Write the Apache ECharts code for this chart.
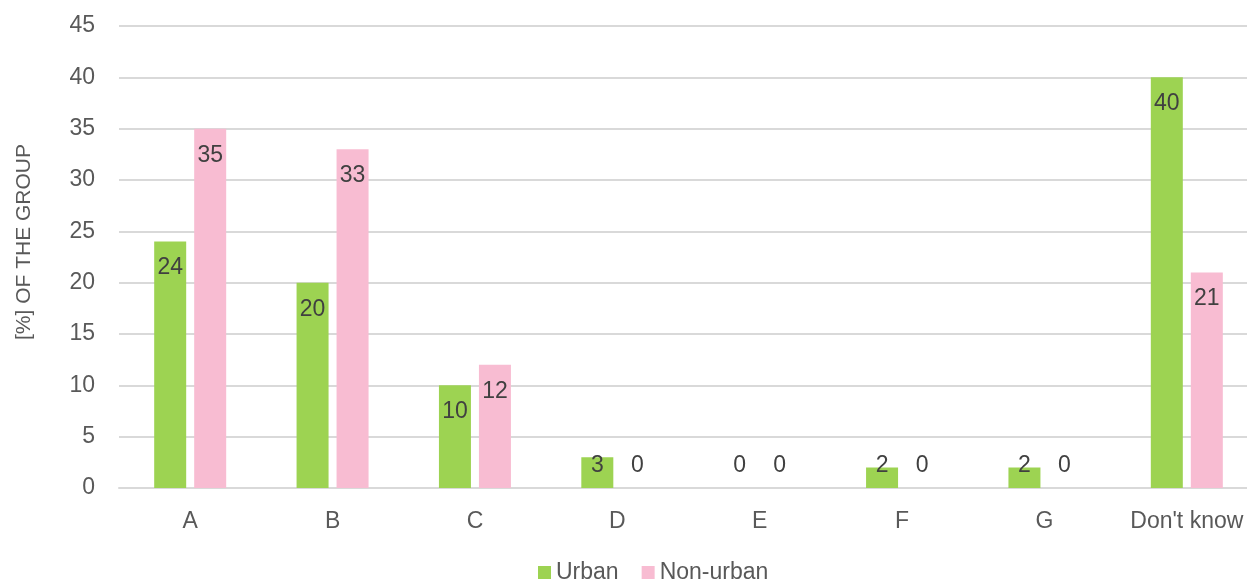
<!DOCTYPE html>
<html>
<head>
<meta charset="utf-8">
<script src="https://cdn.jsdelivr.net/npm/echarts@6/dist/echarts.min.js"></script>
<style>
  html, body { margin: 0; padding: 0; background: #ffffff; overflow: hidden; }
  #chart { width: 1262px; height: 583px; }
</style>
</head>
<body>
<div id="chart"></div>
<script>
// Answer categories along the x axis
const categories = ['A', 'B', 'C', 'D', 'E', 'F', 'G', "Don't know"];
// Share of each group choosing the answer, in percent
const urbanValues = [24, 20, 10, 3, 0, 2, 2, 40];
const nonUrbanValues = [35, 33, 12, 0, 0, 0, 0, 21];
// Value axis range and step
const yMin = 0;
const yMax = 45;
const yStep = 5;

const FONT = '"Liberation Sans", Arial, sans-serif';
const GREEN = '#9dd352';
const PINK = '#f8bcd2';

// Bars too short to hold their label keep it just above the baseline
function labelled(values) {
  return values.map(v => ({
    value: v,
    label: v >= 5
      ? { position: 'insideTop', distance: 15 }
      : { position: 'insideBottom', distance: 11 }
  }));
}

const chart = echarts.init(document.getElementById('chart'), null, { renderer: 'canvas' });

const labelStyle = {
  show: true,
  color: '#404040',
  fontFamily: FONT,
  fontSize: 23
};

chart.setOption({
  animation: false,
  textStyle: { fontFamily: FONT },
  // The plot runs slightly past the right edge of the visible page
  grid: { left: 119, top: 26, width: 1139, height: 462, containLabel: false },
  legend: {
    bottom: -6,
    left: 533,
    itemWidth: 13,
    itemHeight: 13,
    itemGap: 23,
    icon: 'rect',
    textStyle: { color: '#595959', fontFamily: FONT, fontSize: 23 },
    data: ['Urban', 'Non-urban']
  },
  xAxis: {
    type: 'category',
    data: categories,
    axisLine: { show: true, lineStyle: { color: '#d9d9d9', width: 2 } },
    axisTick: { show: false },
    axisLabel: { color: '#595959', fontFamily: FONT, fontSize: 23, margin: 22, interval: 0 }
  },
  yAxis: {
    type: 'value',
    min: yMin,
    max: yMax,
    interval: yStep,
    name: '[%] OF THE GROUP',
    nameLocation: 'middle',
    nameGap: 84,
    nameTextStyle: { color: '#595959', fontFamily: FONT, fontSize: 21, padding: [0, 0, 0, 30] },
    axisLine: { show: false },
    axisTick: { show: false },
    axisLabel: { color: '#595959', fontFamily: FONT, fontSize: 23, margin: 24 },
    splitLine: { lineStyle: { color: '#d9d9d9', width: 2 } }
  },
  series: [
    {
      name: 'Urban',
      type: 'bar',
      data: labelled(urbanValues),
      barWidth: 32,
      barGap: '25%',
      itemStyle: { color: GREEN },
      label: labelStyle
    },
    {
      name: 'Non-urban',
      type: 'bar',
      data: labelled(nonUrbanValues),
      barWidth: 32,
      barGap: '25%',
      itemStyle: { color: PINK },
      label: labelStyle
    }
  ]
});
</script>
</body>
</html>
